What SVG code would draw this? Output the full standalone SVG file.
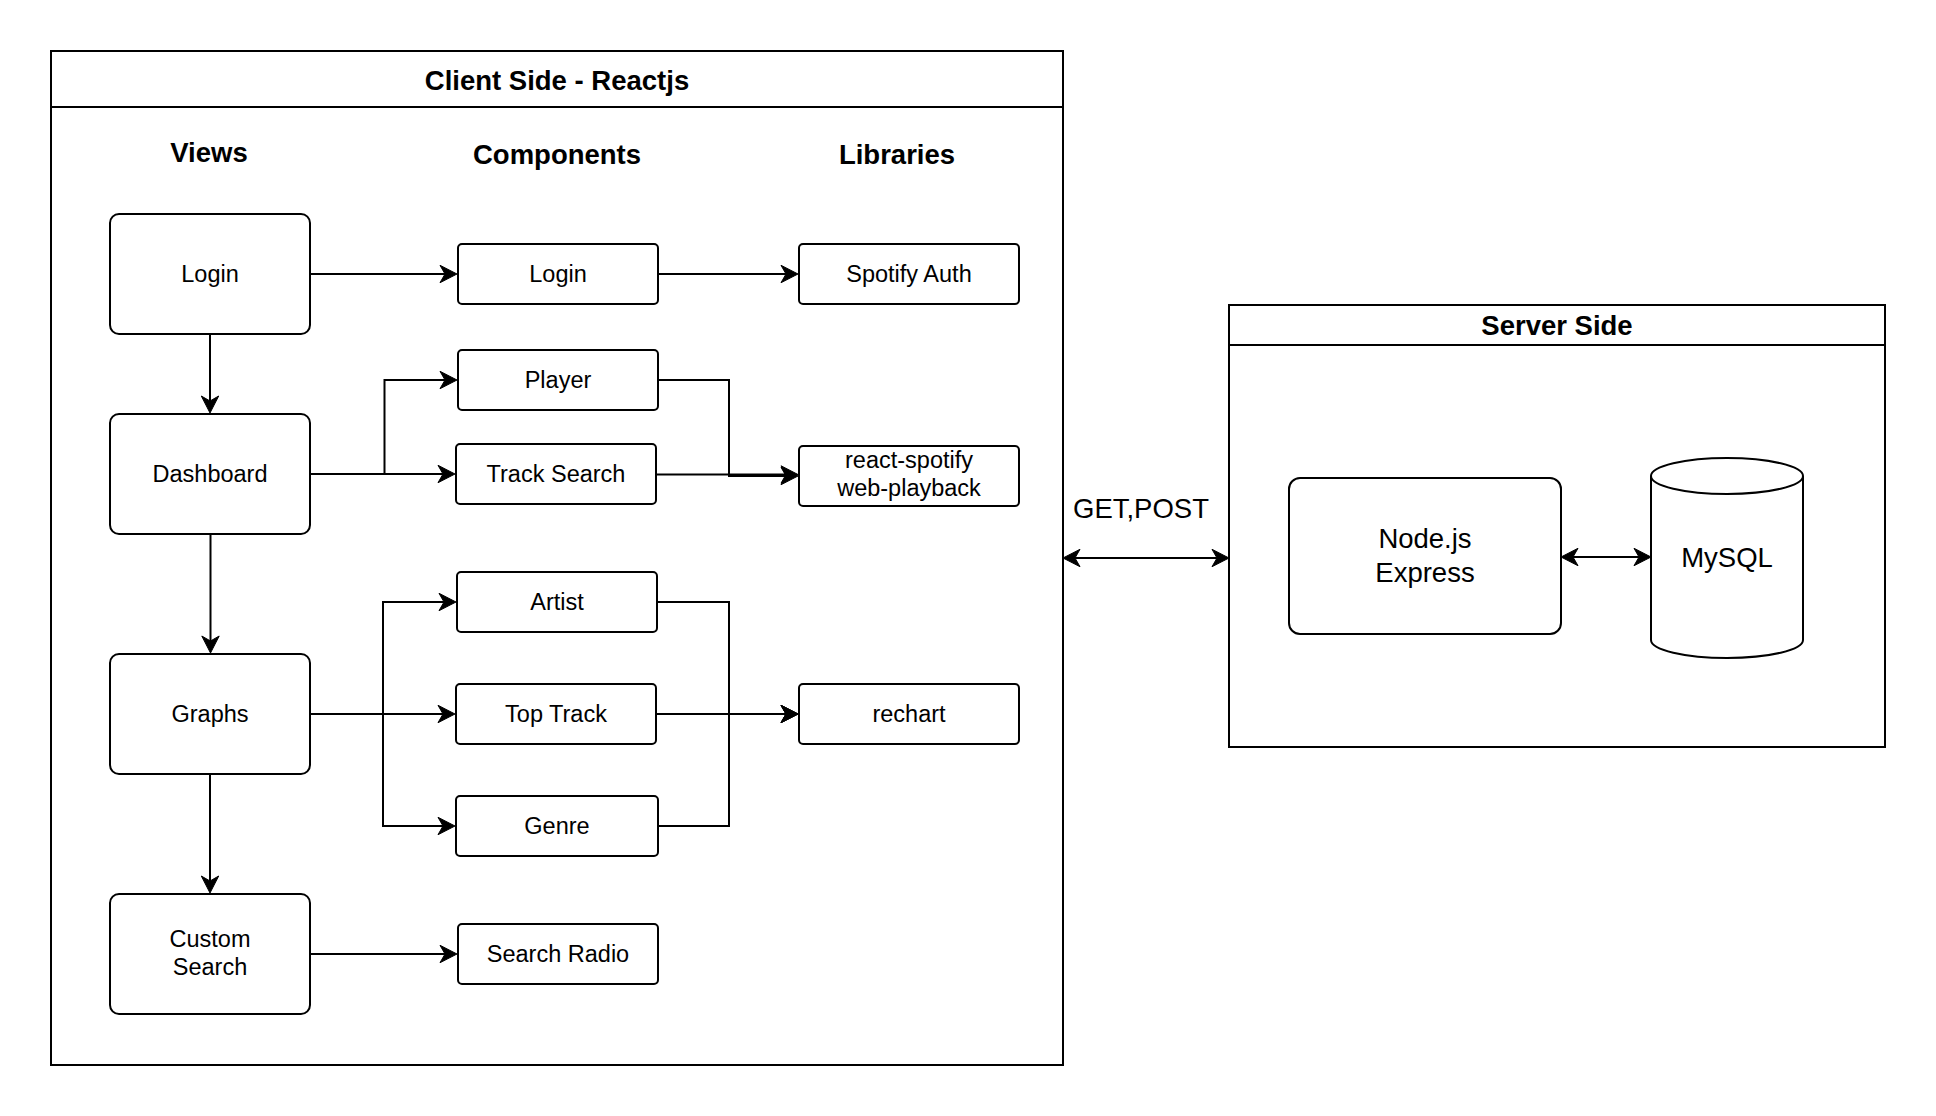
<svg xmlns="http://www.w3.org/2000/svg" width="1936" height="1116" viewBox="0 0 1936 1116">
<defs>
<style>
.bg{fill:#ffffff}
.cont{fill:none;stroke:#000;stroke-width:2}
.node rect{fill:#ffffff;stroke:#000;stroke-width:2}
.cyl{fill:#ffffff;stroke:#000;stroke-width:2}
.t{font-family:"Liberation Sans",Arial,Helvetica,sans-serif;font-size:23.5px;fill:#000;text-anchor:middle}
.ts{font-family:"Liberation Sans",Arial,Helvetica,sans-serif;font-size:27.5px;fill:#000;text-anchor:middle}
.h{font-family:"Liberation Sans",Arial,Helvetica,sans-serif;font-size:27.5px;font-weight:bold;fill:#000;text-anchor:middle}
.c path{fill:none;stroke:#000;stroke-width:2}
.c .a{marker-end:url(#arr)}
.c .b{marker-start:url(#arr);marker-end:url(#arr)}
</style>
<marker id="arr" markerUnits="userSpaceOnUse" markerWidth="20" markerHeight="20" viewBox="-14 -10 20 20" refX="0" refY="0" orient="auto-start-reverse" overflow="visible">
<path d="M5,0 L-12,-8.7 L-7,0 L-12,8.7 Z" fill="#000" stroke="#000" stroke-width="1" stroke-linejoin="miter"/>
</marker>
</defs>
<rect class="bg" x="0" y="0" width="1936" height="1116"/>

<g id="client-side">
<rect class="cont" x="51" y="51" width="1012" height="1014"/>
<line class="cont" x1="51" y1="107" x2="1063" y2="107"/>
<text class="h" x="557" y="90">Client Side - Reactjs</text>
<text class="h" x="209" y="162">Views</text>
<text class="h" x="557" y="164">Components</text>
<text class="h" x="897" y="164">Libraries</text>
</g>

<g id="server-side">
<rect class="cont" x="1229" y="305" width="656" height="442"/>
<line class="cont" x1="1229" y1="345" x2="1885" y2="345"/>
<text class="h" x="1557" y="335">Server Side</text>
</g>

<g id="view-login" class="node"><rect x="110" y="214" width="200" height="120" rx="9"/><text class="t" x="210" y="282">Login</text></g>
<g id="view-dashboard" class="node"><rect x="110" y="414" width="200" height="120" rx="9"/><text class="t" x="210" y="482">Dashboard</text></g>
<g id="view-graphs" class="node"><rect x="110" y="654" width="200" height="120" rx="9"/><text class="t" x="210" y="722">Graphs</text></g>
<g id="view-custom-search" class="node"><rect x="110" y="894" width="200" height="120" rx="9"/><text class="t" x="210" y="947"><tspan x="210">Custom</tspan><tspan x="210" y="975">Search</tspan></text></g>

<g id="comp-login" class="node"><rect x="458" y="244" width="200" height="60" rx="4"/><text class="t" x="558" y="282">Login</text></g>
<g id="comp-player" class="node"><rect x="458" y="350" width="200" height="60" rx="4"/><text class="t" x="558" y="388">Player</text></g>
<g id="comp-track-search" class="node"><rect x="456" y="444" width="200" height="60" rx="4"/><text class="t" x="556" y="482">Track Search</text></g>
<g id="comp-artist" class="node"><rect x="457" y="572" width="200" height="60" rx="4"/><text class="t" x="557" y="610">Artist</text></g>
<g id="comp-top-track" class="node"><rect x="456" y="684" width="200" height="60" rx="4"/><text class="t" x="556" y="722">Top Track</text></g>
<g id="comp-genre" class="node"><rect x="456" y="796" width="202" height="60" rx="4"/><text class="t" x="557" y="834">Genre</text></g>
<g id="comp-search-radio" class="node"><rect x="458" y="924" width="200" height="60" rx="4"/><text class="t" x="558" y="962">Search Radio</text></g>

<g id="lib-spotify-auth" class="node"><rect x="799" y="244" width="220" height="60" rx="4"/><text class="t" x="909" y="282">Spotify Auth</text></g>
<g id="lib-react-spotify" class="node"><rect x="799" y="446" width="220" height="60" rx="4"/><text class="t" x="909" y="468"><tspan x="909">react-spotify</tspan><tspan x="909" y="496">web-playback</tspan></text></g>
<g id="lib-rechart" class="node"><rect x="799" y="684" width="220" height="60" rx="4"/><text class="t" x="909" y="722">rechart</text></g>

<g id="node-express" class="node"><rect x="1289" y="478" width="272" height="156" rx="11"/><text class="ts" x="1425" y="548"><tspan x="1425">Node.js</tspan><tspan x="1425" y="582">Express</tspan></text></g>
<g id="mysql">
<path class="cyl" d="M1651,476 A76,18 0 0 1 1803,476 V640 A76,18 0 0 1 1651,640 Z"/>
<path class="cyl" d="M1651,476 A76,18 0 0 0 1803,476" fill="none"/>
<text class="ts" x="1727" y="567">MySQL</text>
</g>

<g id="connectors" class="c">
<path class="a" d="M310,274 H452"/>
<path class="a" d="M658,274 H793"/>
<path class="a" d="M210,334 V408"/>
<path class="a" d="M310,474 H384.5 V380 H452"/>
<path class="a" d="M310,474 H450"/>
<path class="a" d="M658,380 H729 V476 H793"/>
<path class="a" d="M656,474.5 H793"/>
<path class="a" d="M210.5,534 V648"/>
<path class="a" d="M310,714 H383 V602 H451"/>
<path class="a" d="M310,714 H450"/>
<path class="a" d="M310,714 H383 V826 H450"/>
<path class="a" d="M657,602 H729 V714 H793"/>
<path class="a" d="M656,714 H793"/>
<path class="a" d="M658,826 H729 V714 H793"/>
<path class="a" d="M210,774 V888"/>
<path class="a" d="M310,954 H452"/>
<path class="b" d="M1068,558 H1224"/>
<path class="b" d="M1566,557 H1646"/>
<text class="ts" x="1141" y="518">GET,POST</text>
</g>
</svg>
